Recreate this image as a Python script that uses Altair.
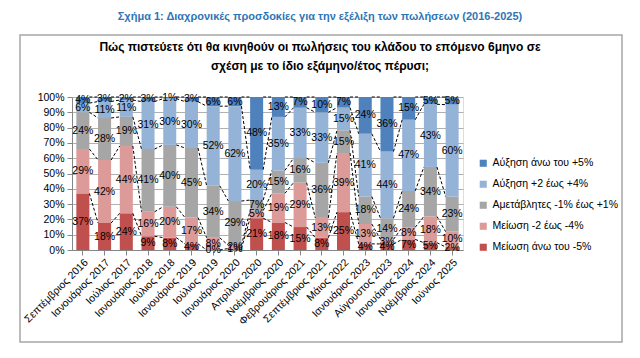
import altair as alt
import pandas as pd

cats = ["Σεπτέμβριος 2016", "Ιανουάριος 2017", "Ιούλιος 2017", "Ιανουάριος 2018",
        "Ιούλιος 2018", "Ιανουάριος 2019", "Ιούλιος 2019", "Ιανουάριος 2020",
        "Απρίλιος 2020", "Νοέμβριος 2020", "Φεβρουάριος 2021", "Σεπτέμβριος 2021",
        "Μάιος 2022", "Ιανουάριος 2023", "Αύγουστος 2023", "Ιανουάριος 2024",
        "Νοέμβριος 2024", "Ιούνιος 2025"]

series_names = ["Αύξηση άνω του +5%", "Αύξηση +2 έως +4%", "Αμετάβλητες -1% έως +1%",
                "Μείωση -2 έως -4%", "Μείωση άνω του -5%"]
colors = ["#4f81bd", "#95b3d7", "#a6a6a6", "#dc9a98", "#c0504d"]

dec5 = [37, 18, 24, 9, 8, 4, 0, 1, 21, 18, 15, 8, 25, 4, 4, 7, 5, 2]
dec24 = [29, 42, 44, 16, 20, 17, 8, 2, 5, 19, 29, 13, 39, 13, 3, 8, 18, 10]
flat = [24, 28, 19, 41, 40, 45, 34, 29, 7, 15, 16, 36, 15, 18, 14, 24, 34, 23]
inc24 = [6, 11, 11, 31, 30, 30, 52, 62, 20, 35, 33, 33, 15, 41, 44, 47, 43, 60]
inc5 = [4, 3, 2, 3, 1, 3, 6, 6, 48, 13, 7, 10, 7, 24, 36, 15, 5, 5]
y_ticks = [0, 0.1, 0.2, 0.3, 0.4, 0.5, 0.6, 0.7, 0.8, 0.9, 1.0]

title_text = "Σχήμα 1: Διαχρονικές προσδοκίες για την εξέλιξη των πωλήσεων (2016-2025)"
sub_lines = ["Πώς πιστεύετε ότι θα κινηθούν οι πωλήσεις του κλάδου το επόμενο 6μηνο σε",
             "σχέση με το ίδιο εξάμηνο/έτος πέρυσι;"]

# bottom -> top order
stack_series = [series_names[4], series_names[3], series_names[2], series_names[1], series_names[0]]
stack_values = [dec5, dec24, flat, inc24, inc5]

rows = []
tops = {}
for i, c in enumerate(cats):
    total = sum(v[i] for v in stack_values)
    cum = 0.0
    for s, vals in zip(stack_series, stack_values):
        y0 = cum / total
        cum += vals[i]
        y1 = cum / total
        rows.append({"cat": c, "series": s, "y0": y0, "y1": y1,
                     "ym": (y0 + y1) / 2, "label": f"{vals[i]}%"})
        tops[(i, s)] = y1
df = pd.DataFrame(rows)

lrows = []
for i in range(len(cats) - 1):
    for s in stack_series:
        lrows.append({"cat": cats[i], "cat_next": cats[i + 1],
                      "ya": tops[(i, s)], "yb": tops[(i + 1, s)]})
ldf = pd.DataFrame(lrows)

FONT = "Liberation Sans"

xscale = alt.Scale(domain=cats, paddingInner=0.4, paddingOuter=0.2)
yscale = alt.Scale(domain=[0, 1])
xaxis = alt.Axis(labelAngle=-45, labelFontSize=10.5, labelFont=FONT,
                 labelColor="#000000", domainColor="#868686",
                 tickColor="#868686", labelPadding=2, labelOverlap=False, title=None)
yaxis = alt.Axis(format=".0%", values=y_ticks, tickCount=11,
                 labelFontSize=10.5, labelFont=FONT, labelColor="#000000",
                 domainColor="#868686", tickColor="#868686",
                 gridColor="#b0b0b0", labelPadding=3, labelOverlap=False, title=None)

bars = alt.Chart(df).mark_bar().encode(
    x=alt.X("cat:N", scale=xscale, sort=cats, axis=xaxis),
    y=alt.Y("y1:Q", scale=yscale, axis=yaxis),
    y2="y0:Q",
    color=alt.Color("series:N", scale=alt.Scale(domain=series_names, range=colors),
                    legend=alt.Legend(title=None, orient="none", legendX=406, legendY=61,
                                      symbolType="square", symbolSize=50,
                                      symbolStrokeWidth=0, labelFontSize=10.5,
                                      labelFont=FONT, labelColor="#000000",
                                      rowPadding=10)),
)

lines = alt.Chart(ldf).mark_rule(color="#000000", strokeDash=[3, 2], strokeWidth=1).encode(
    x=alt.X("cat:N", scale=xscale, sort=cats, bandPosition=1, axis=xaxis),
    x2=alt.X2("cat_next:N", bandPosition=0),
    y=alt.Y("ya:Q", scale=yscale, axis=yaxis),
    y2="yb:Q",
)

labels = alt.Chart(df).mark_text(fontSize=10.5, font=FONT, color="#000000").encode(
    x=alt.X("cat:N", scale=xscale, sort=cats, bandPosition=0.5, axis=xaxis),
    y=alt.Y("ym:Q", scale=yscale, axis=yaxis),
    text="label:N",
)

frame = alt.Chart(alt.Data(values=[{}])).mark_rect(
    fill="transparent", stroke="#a6a6a6", strokeWidth=1.5).encode(
    x=alt.value(-52), x2=alt.value(550), y=alt.value(-62), y2=alt.value(245))

title = alt.Chart(alt.Data(values=[{}])).mark_text(
    fontSize=11, font=FONT, fontWeight="bold", color="#2e75b6").encode(
    x=alt.value(248), y=alt.value(-80), text=alt.value(title_text))

sub1 = alt.Chart(alt.Data(values=[{}])).mark_text(
    fontSize=12, font=FONT, fontWeight="bold", color="#000000").encode(
    x=alt.value(248), y=alt.value(-50), text=alt.value(sub_lines[0]))
sub2 = alt.Chart(alt.Data(values=[{}])).mark_text(
    fontSize=12, font=FONT, fontWeight="bold", color="#000000").encode(
    x=alt.value(248), y=alt.value(-31), text=alt.value(sub_lines[1]))

chart = alt.layer(frame, bars, lines, labels, title, sub1, sub2).properties(
    width=391, height=153,
    autosize=alt.AutoSizeParams(type="none"),
    padding={"left": 64, "top": 89, "right": 169, "bottom": 100},
).configure_view(stroke=None).configure(background="white")

chart.save("out.html", embed_options={"renderer": "svg", "actions": False})
